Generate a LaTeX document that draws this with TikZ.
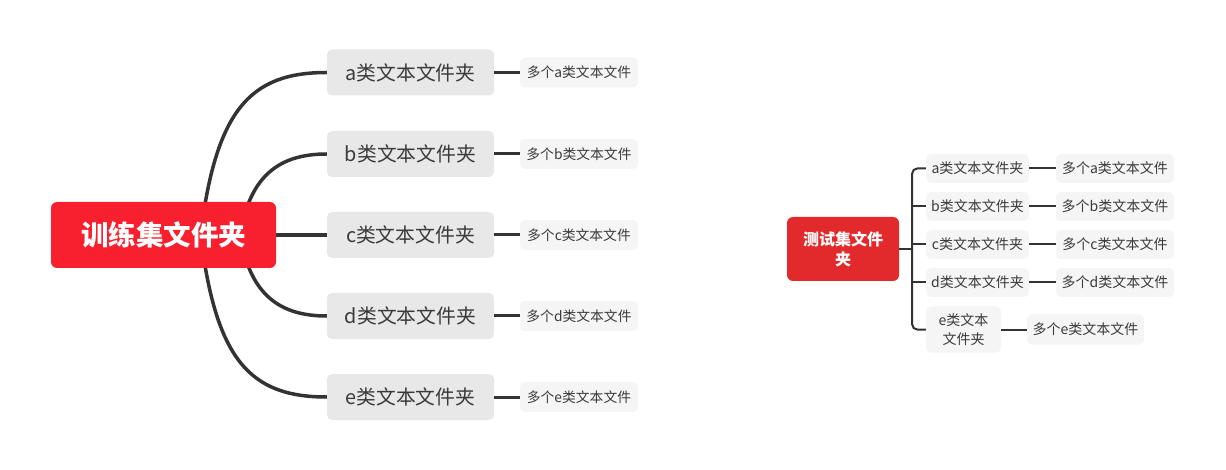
\documentclass[tikz,border=0pt]{standalone}
\usepackage{fontspec}
\setmainfont{Noto Sans CJK SC}
\usetikzlibrary{calc}
\pgfdeclarelayer{background}
\pgfsetlayers{background,main}
\definecolor{rootred}{HTML}{F8202E}
\definecolor{rootred2}{HTML}{E22A2C}
\definecolor{branchgray}{HTML}{E8E8E8}
\definecolor{leafgray}{HTML}{F5F5F5}
\definecolor{inkgray}{HTML}{333333}
\definecolor{txtgray}{HTML}{3A3A3A}
\tikzset{
  rootbox/.style={fill=rootred, rounded corners=6pt, inner sep=0pt, text=white,
    minimum width=225pt, minimum height=66pt, font=\fontsize{27.5}{30}\selectfont\bfseries},
  branchbox/.style={fill=branchgray, rounded corners=5pt, inner sep=0pt, text=txtgray,
    minimum width=167pt, minimum height=46pt, font=\fontsize{19.8}{22}\selectfont},
  leafbox/.style={fill=leafgray, rounded corners=5pt, inner sep=0pt, text=txtgray,
    minimum width=118pt, minimum height=30pt, font=\fontsize{13.8}{16}\selectfont},
  rrootbox/.style={fill=rootred2, rounded corners=6pt, inner sep=0pt, text=white, align=center,
    minimum width=112pt, minimum height=64pt, font=\fontsize{16}{20}\selectfont\bfseries},
  rbranchbox/.style={fill=leafgray, rounded corners=5pt, inner sep=0pt, text=txtgray, align=center,
    minimum width=103pt, minimum height=29pt, font=\fontsize{14}{19}\selectfont},
  rleafbox/.style={fill=leafgray, rounded corners=5pt, inner sep=0pt, text=txtgray,
    minimum width=118pt, minimum height=29pt, font=\fontsize{14}{17}\selectfont},
  thickline/.style={draw=inkgray, line width=3.5pt},
  midline/.style={draw=inkgray, line width=3pt},
  thinline/.style={draw=inkgray, line width=2pt},
}
\begin{document}
\begin{tikzpicture}[x=1pt,y=-1pt]
\useasboundingbox (0,0) rectangle (1226,470);
% left mind map
\node[rootbox] (root) at (163.5,235) {训练集文件夹};
\node[branchbox] (ba) at (410.5,72.5) {a类文本文件夹};
\node[branchbox] (bb) at (410.5,154) {b类文本文件夹};
\node[branchbox] (bc) at (410.5,235) {c类文本文件夹};
\node[branchbox] (bd) at (410.5,316) {d类文本文件夹};
\node[branchbox] (be) at (410.5,397) {e类文本文件夹};
\node[leafbox] (la) at (579,72.5) {多个a类文本文件};
\node[leafbox] (lb) at (579,154) {多个b类文本文件};
\node[leafbox] (lc) at (579,235) {多个c类文本文件};
\node[leafbox] (ld) at (579,316) {多个d类文本文件};
\node[leafbox] (le) at (579,397) {多个e类文本文件};
\begin{pgfonlayer}{background}
\draw[thickline] ($(root.center)+(36.5,5)$) .. controls +(15,-130) and +(-77,0) .. (ba.west);
\draw[thickline] ($(root.center)+(76.5,0)$) .. controls +(10,-60) and +(-47,0) .. (bb.west);
\draw[thickline] (root.east) -- (bc.west);
\draw[thickline] ($(root.center)+(76.5,0)$) .. controls +(10,60) and +(-47,0) .. (bd.west);
\draw[thickline] ($(root.center)+(36.5,-5)$) .. controls +(15,130) and +(-77,0) .. (be.west);
\end{pgfonlayer}
\foreach \b/\l in {ba/la,bb/lb,bc/lc,bd/ld,be/le}{
  \draw[midline] (\b.east) -- (\l.west);
}
% right mind map
\node[rrootbox] (rroot) at (843,249) {测试集文件\\夹};
\node[rbranchbox] (ra) at (977.5,168.5) {a类文本文件夹};
\node[rbranchbox] (rb) at (977.5,206.5) {b类文本文件夹};
\node[rbranchbox] (rc) at (977.5,244.5) {c类文本文件夹};
\node[rbranchbox] (rd) at (977.5,282.5) {d类文本文件夹};
\node[rbranchbox, minimum width=75pt, minimum height=46pt] (re) at (963.5,329.5) {e类文本\\文件夹};
\node[rleafbox] (rla) at (1115,168.5) {多个a类文本文件};
\node[rleafbox] (rlb) at (1115,206.5) {多个b类文本文件};
\node[rleafbox] (rlc) at (1115,244.5) {多个c类文本文件};
\node[rleafbox] (rld) at (1115,282.5) {多个d类文本文件};
\node[rleafbox, minimum width=117pt, minimum height=30pt] (rle) at (1085.5,329.5) {多个e类文本文件};
\coordinate (rj) at ($(rroot.east)+(13,0)$);
\draw[thinline] (rroot.east) -- (rj);
\draw[thinline, rounded corners=5pt] (ra.west) -| (rj) |- (re.west);
\foreach \n in {rb,rc,rd}{
  \draw[thinline] (rj |- \n.west) -- (\n.west);
}
\foreach \b/\l in {ra/rla,rb/rlb,rc/rlc,rd/rld,re/rle}{
  \draw[thinline] (\b.east) -- (\l.west);
}
\end{tikzpicture}
\end{document}
